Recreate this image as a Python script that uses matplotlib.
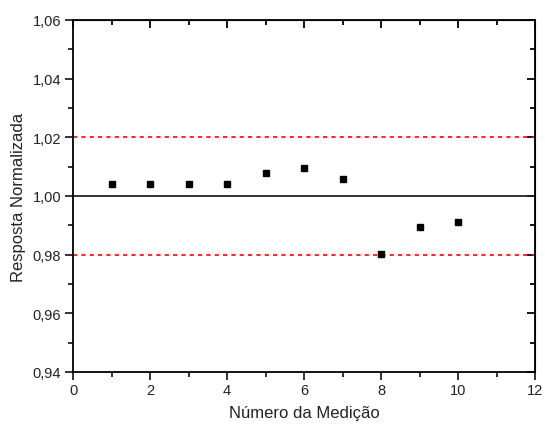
import matplotlib
matplotlib.use('Agg')
import matplotlib.pyplot as plt
from matplotlib.ticker import MultipleLocator, FuncFormatter

plt.rcParams['font.family'] = ['Liberation Sans', 'DejaVu Sans']

# data
medicao = [1, 2, 3, 4, 5, 6, 7, 8, 9, 10]
resposta = [1.0042, 1.0042, 1.0042, 1.0042, 1.0077, 1.0096, 1.0059, 0.9802, 0.9893, 0.9912]
referencia = 1.00
limites = [0.98, 1.02]

fig = plt.figure(figsize=(5.45, 4.27), dpi=100)
ax = fig.add_axes([0.134, 0.1265, 0.848, 0.8245])

ax.axhline(referencia, color='#222222', lw=1.3, zorder=1)
for lim in limites:
    ax.axhline(lim, color='red', lw=1.2, ls=(0, (2.5, 2.5)), zorder=1)
ax.plot(medicao, resposta, 's', color='black', ms=5, zorder=3)

ax.set_xlim(0, 12)
ax.set_ylim(0.94, 1.06)
ax.xaxis.set_major_locator(MultipleLocator(2))
ax.xaxis.set_minor_locator(MultipleLocator(1))
ax.yaxis.set_major_locator(MultipleLocator(0.02))
ax.yaxis.set_minor_locator(MultipleLocator(0.01))
ax.yaxis.set_major_formatter(FuncFormatter(lambda v, p: f'{v:.2f}'.replace('.', ',')))

for s in ax.spines.values():
    s.set_linewidth(1.3)

# bottom/left ticks outward, mirrored ticks inward
ax.tick_params(which='both', direction='out', width=1.3, labelsize=10.5, top=False, right=False,
               colors='#222222')
ax.tick_params(axis='x', pad=2)
ax.tick_params(axis='y', pad=2.5)
ax.tick_params(which='major', length=6)
ax.tick_params(which='minor', length=3.5)
ax2 = ax.secondary_xaxis('top')
ax2.xaxis.set_major_locator(MultipleLocator(2))
ax2.xaxis.set_minor_locator(MultipleLocator(1))
ax2.tick_params(which='both', direction='in', width=1.3, labeltop=False)
ax2.tick_params(which='major', length=6)
ax2.tick_params(which='minor', length=3.5)
ax3 = ax.secondary_yaxis('right')
ax3.yaxis.set_major_locator(MultipleLocator(0.02))
ax3.yaxis.set_minor_locator(MultipleLocator(0.01))
ax3.tick_params(which='both', direction='in', width=1.3, labelright=False)
ax3.tick_params(which='major', length=6)
ax3.tick_params(which='minor', length=3.5)

ax.set_xlabel('Número da Medição', fontsize=12, labelpad=6, color='#222222')
ax.set_ylabel('Resposta Normalizada', fontsize=12, labelpad=5, color='#222222')

fig.savefig('out.png', dpi=100)
